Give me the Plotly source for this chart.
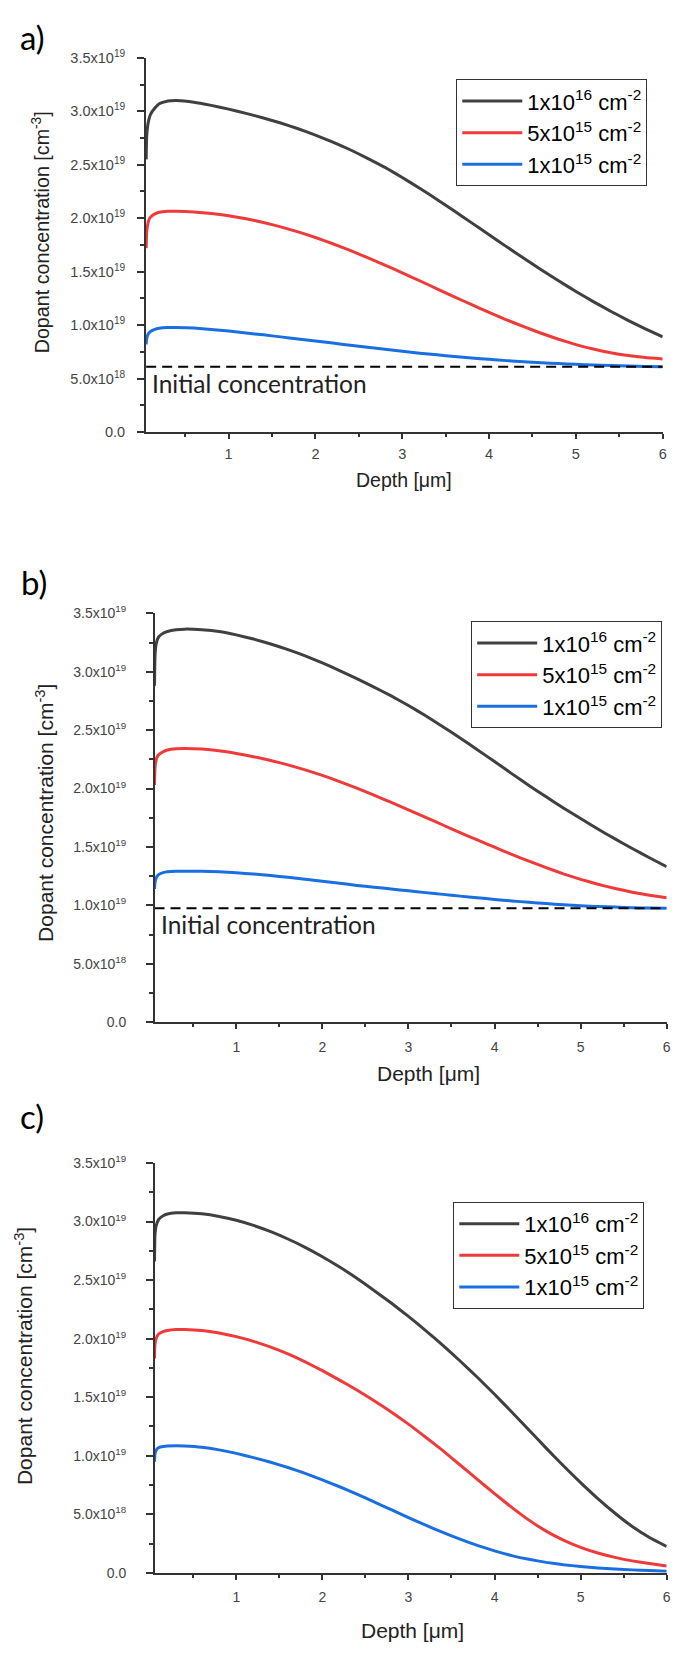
import plotly.graph_objects as go

# ---------------- data (concentrations in units of 1e19 cm^-3) ----------------
depth = [0.05, 0.055, 0.065, 0.08, 0.1, 0.15, 0.2, 0.3,
         0.4, 0.6, 0.8, 1.0, 1.2, 1.4, 1.6, 1.8, 2.0, 2.2,
         2.4, 2.6, 2.8, 3.0, 3.2, 3.4, 3.6, 3.8, 4.0, 4.2,
         4.4, 4.6, 4.8, 5.0, 5.2, 5.4, 5.6, 5.8, 6.0]

black_a = [2.55, 2.75, 2.85, 2.92, 2.97, 3.03, 3.07, 3.095,
           3.10, 3.085, 3.055, 3.02, 2.98, 2.937, 2.89, 2.836, 2.777, 2.712,
           2.64, 2.56, 2.475, 2.38, 2.28, 2.175, 2.067, 1.956, 1.845, 1.734,
           1.625, 1.518, 1.415, 1.315, 1.22, 1.13, 1.045, 0.965, 0.89]
red_a = [1.72, 1.86, 1.93, 1.98, 2.01, 2.04, 2.055, 2.065,
         2.065, 2.058, 2.044, 2.023, 1.995, 1.960, 1.919, 1.872, 1.819, 1.761,
         1.698, 1.631, 1.561, 1.489, 1.415, 1.340, 1.265, 1.191, 1.119, 1.050,
         0.985, 0.924, 0.868, 0.818, 0.776, 0.742, 0.716, 0.697, 0.684]
blue_a = [0.82, 0.87, 0.90, 0.925, 0.94, 0.96, 0.97, 0.977,
          0.978, 0.972, 0.96, 0.944, 0.927, 0.909, 0.89, 0.871, 0.852, 0.832,
          0.812, 0.793, 0.774, 0.756, 0.738, 0.722, 0.707, 0.693, 0.68, 0.668,
          0.657, 0.648, 0.64, 0.633, 0.627, 0.622, 0.617, 0.614, 0.611]

black_b = [2.88, 3.12, 3.22, 3.27, 3.30, 3.33, 3.345, 3.36,
           3.365, 3.36, 3.345, 3.316, 3.28, 3.238, 3.19, 3.136, 3.076, 3.01,
           2.941, 2.869, 2.793, 2.711, 2.623, 2.53, 2.433, 2.333, 2.231, 2.128,
           2.027, 1.929, 1.834, 1.743, 1.654, 1.569, 1.487, 1.408, 1.331]
red_b = [2.03, 2.17, 2.23, 2.27, 2.29, 2.315, 2.33, 2.34,
         2.342, 2.338, 2.324, 2.301, 2.273, 2.24, 2.203, 2.16, 2.113, 2.06,
         2.004, 1.944, 1.881, 1.817, 1.753, 1.688, 1.623, 1.56, 1.498, 1.437,
         1.378, 1.323, 1.27, 1.223, 1.181, 1.145, 1.113, 1.086, 1.065]
blue_b = [1.14, 1.19, 1.225, 1.25, 1.265, 1.28, 1.287, 1.292,
          1.293, 1.292, 1.287, 1.279, 1.268, 1.255, 1.24, 1.224, 1.207, 1.189,
          1.171, 1.156, 1.14, 1.125, 1.109, 1.094, 1.079, 1.065, 1.051, 1.038,
          1.026, 1.015, 1.005, 0.997, 0.99, 0.985, 0.98, 0.977, 0.975]

black_c = [2.66, 2.88, 2.95, 2.99, 3.02, 3.05, 3.065, 3.075,
           3.075, 3.066, 3.044, 3.011, 2.967, 2.914, 2.851, 2.78, 2.70, 2.612,
           2.516, 2.412, 2.304, 2.19, 2.069, 1.942, 1.809, 1.67, 1.525, 1.374,
           1.22, 1.065, 0.914, 0.77, 0.634, 0.509, 0.396, 0.302, 0.225]
red_c = [1.83, 1.95, 1.99, 2.02, 2.04, 2.06, 2.07, 2.078,
         2.078, 2.069, 2.048, 2.017, 1.977, 1.927, 1.869, 1.801, 1.727, 1.646,
         1.561, 1.47, 1.373, 1.27, 1.158, 1.043, 0.921, 0.798, 0.676, 0.559,
         0.45, 0.356, 0.279, 0.217, 0.169, 0.132, 0.102, 0.079, 0.059]
blue_c = [0.95, 1.01, 1.04, 1.06, 1.07, 1.078, 1.083, 1.085,
          1.083, 1.072, 1.05, 1.02, 0.984, 0.944, 0.899, 0.849, 0.794, 0.735,
          0.672, 0.606, 0.539, 0.472, 0.407, 0.345, 0.287, 0.234, 0.187, 0.147,
          0.115, 0.089, 0.069, 0.054, 0.042, 0.033, 0.025, 0.019, 0.014]

initial_conc = [0.61, 0.975]          # panels a and b
dose_labels = ["1x10<sup>16</sup> cm<sup>-2</sup>",
               "5x10<sup>15</sup> cm<sup>-2</sup>",
               "1x10<sup>15</sup> cm<sup>-2</sup>"]
panel_labels = ["a)", "b)", "c)"]
ytick_vals = [0.0, 0.5, 1.0, 1.5, 2.0, 2.5, 3.0, 3.5]
ytick_text = ["0.0", "5.0x10<sup>18</sup>", "1.0x10<sup>19</sup>", "1.5x10<sup>19</sup>",
              "2.0x10<sup>19</sup>", "2.5x10<sup>19</sup>", "3.0x10<sup>19</sup>", "3.5x10<sup>19</sup>"]
yminor_vals = [0.25, 0.75, 1.25, 1.75, 2.25, 2.75, 3.25]
xtick_vals = [1, 2, 3, 4, 5, 6]
xminor_vals = [0.5, 1.5, 2.5, 3.5, 4.5, 5.5]
x_title = "Depth [μm]"
y_title = "Dopant concentration [cm<sup>-3</sup>]"
init_text = "Initial concentration"
SCALE = 1e19

series = [[black_a, red_a, blue_a], [black_b, red_b, blue_b], [black_c, red_c, blue_c]]

# ---------------- layout geometry (pixels) ----------------
W, H = 675, 1654
COLORS = ["#404040", "#f03a3a", "#1a6fe0"]
AX = "#333333"
SANS = "Liberation Sans, Arial, sans-serif"
HUMAN = "Lato, Open Sans, sans-serif"

panels = [
    dict(xd=(146.7, 666.7), yd=(48.3, 426.7), xr0=0.046, tick=14.5, ystand=9, xstand=3,
         leg=(459, 70), lab=(33, 27), xt=(406, 475, 19.5), yt=(41, 225, 19.7)),
    dict(xd=(155.7, 670.7), yd=(610.0, 1023.3), xr0=0.053, tick=14, ystand=17, xstand=6,
         leg=(474, 618), lab=(34, 578), xt=(431, 1075, 21), yt=(45, 812, 21)),
    dict(xd=(155.7, 670.7), yd=(1165.7, 1580.0), xr0=0.053, tick=14, ystand=17, xstand=6,
         leg=(456, 1205), lab=(32, 1118), xt=(415, 1638, 21), yt=(24, 1361, 21)),
]


def fx(x):
    return x / W


def fy(y):
    return 1 - y / H


fig = go.Figure()
layout = dict(width=W, height=H, autosize=False, margin=dict(l=0, r=0, t=0, b=0, pad=0),
              paper_bgcolor="white", plot_bgcolor="white", showlegend=True,
              annotations=[])

for i, p in enumerate(panels):
    sfx = "" if i == 0 else str(i + 1)
    xa, ya = "x" + sfx, "y" + sfx
    leg = "legend" + sfx
    for k in range(3):
        fig.add_trace(go.Scatter(
            x=depth, y=[v * SCALE for v in series[i][k]], mode="lines",
            line=dict(color=COLORS[k], width=3, shape="spline", smoothing=0.4),
            name=dose_labels[k], xaxis=xa, yaxis=ya, legend=leg, showlegend=True))
    if i < 2:
        fig.add_trace(go.Scatter(
            x=[depth[0], depth[-1]], y=[initial_conc[i] * SCALE] * 2, mode="lines",
            line=dict(color="black", width=2, dash="10px,6px"),
            xaxis=xa, yaxis=ya, showlegend=False, hoverinfo="skip"))
        layout["annotations"].append(dict(
            text=init_text, xref="paper", yref=ya, x=fx(p["xd"][0] + 4),
            y=initial_conc[i] * SCALE, xanchor="left", yanchor="top", yshift=0,
            showarrow=False, font=dict(family=HUMAN, size=24.5, color="#222")))

    layout["xaxis" + sfx] = dict(
        domain=[fx(p["xd"][0]), fx(p["xd"][1])], anchor=ya, range=[p["xr0"], 6.0005],
        tickmode="array", tickvals=xtick_vals, ticktext=[str(v) for v in xtick_vals],
        ticks="outside", ticklen=5, tickwidth=1.5, tickcolor=AX, ticklabelstandoff=p["xstand"],
        showline=True, linecolor=AX, linewidth=1.5, showgrid=False, zeroline=False,
        tickfont=dict(family=SANS, size=p["tick"], color="#444"),
        minor=dict(tickmode="array", tickvals=xminor_vals, ticks="outside", ticklen=3,
                   tickwidth=1.5, tickcolor=AX, showgrid=False))
    layout["yaxis" + sfx] = dict(
        domain=[fy(p["yd"][1]), fy(p["yd"][0])], anchor=xa, range=[0, 3.5 * SCALE],
        tickmode="array", tickvals=[v * SCALE for v in ytick_vals], ticktext=ytick_text,
        ticks="outside", ticklen=7, tickwidth=1.5, tickcolor=AX, ticklabelstandoff=p["ystand"],
        showline=True, linecolor=AX, linewidth=1.5, showgrid=False, zeroline=False,
        tickfont=dict(family=SANS, size=p["tick"], color="#444"),
        minor=dict(tickmode="array", tickvals=[v * SCALE for v in yminor_vals], ticks="outside",
                   ticklen=4, tickwidth=1.5, tickcolor=AX, showgrid=False))
    layout[leg] = dict(
        x=fx(p["leg"][0]), y=fy(p["leg"][1]), xanchor="left", yanchor="top",
        xref="paper", yref="paper", bgcolor="white", bordercolor=AX, borderwidth=1,
        font=dict(family=SANS, size=22, color="black"), itemwidth=60, tracegroupgap=0)

    layout["annotations"] += [
        dict(text=panel_labels[i], xref="paper", yref="paper", x=fx(p["lab"][0]), y=fy(p["lab"][1]),
             xanchor="center", yanchor="middle", showarrow=False,
             font=dict(family=HUMAN, size=33, color="black")),
        dict(text=x_title, xref="paper", yref="paper", x=fx(p["xt"][0]), y=fy(p["xt"][1]),
             xanchor="center", yanchor="middle", showarrow=False,
             font=dict(family=SANS, size=p["xt"][2], color="#222")),
        dict(text=y_title, xref="paper", yref="paper", x=fx(p["yt"][0]), y=fy(p["yt"][1]),
             xanchor="center", yanchor="middle", showarrow=False, textangle=-90,
             font=dict(family=SANS, size=p["yt"][2], color="#222")),
    ]

fig.update_layout(**layout)
fig.write_html("out.html", config={"displayModeBar": False},
               post_script="document.body.style.margin='0px';")
